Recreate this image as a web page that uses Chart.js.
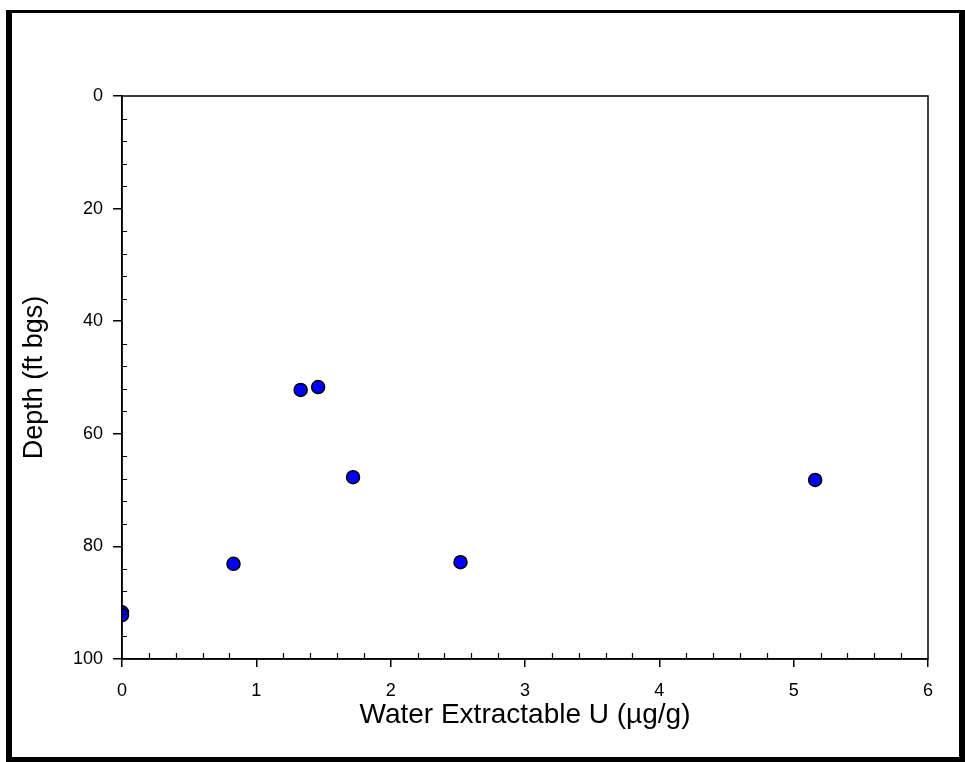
<!DOCTYPE html>
<html>
<head>
<meta charset="utf-8">
<script src="https://cdn.jsdelivr.net/npm/chart.js@4"></script>
<style>
  body { margin: 0; background: #fff; }
  canvas { display: block; }
</style>
</head>
<body>
<canvas id="grafico" width="965" height="762"></canvas>
<script>
// valores
const uValues = [0, 0, 0.83, 1.33, 1.46, 1.72, 2.52, 5.16];
const depthValues = [91.7, 92.2, 83.1, 52.2, 51.7, 67.7, 82.8, 68.2];
const xTicks = [0, 1, 2, 3, 4, 5, 6];
const yTicks = [0, 20, 40, 60, 80, 100];
const xMinorStep = 0.2;
const yMinorStep = 4;

const fonte = "'Liberation Sans', Arial, sans-serif";

// moldura preta e caixa da área do gráfico + ticks menores para dentro
const moldura = {
    id: 'moldura',
    afterDraw(chart) {
        const ctx = chart.ctx;
        const area = chart.chartArea;
        const x = chart.scales.x;
        const y = chart.scales.y;
        ctx.save();
        ctx.fillStyle = '#000';
        ctx.fillRect(6, 10, 953, 3);
        ctx.fillRect(6, 10, 6, 752);
        ctx.fillRect(959, 10, 6, 752);
        ctx.fillRect(6, 757, 959, 5);

        ctx.strokeStyle = '#000';
        ctx.lineWidth = 1.5;
        ctx.strokeRect(area.left, area.top, area.right - area.left, area.bottom - area.top);

        ctx.lineWidth = 1.2;
        ctx.beginPath();
        for (let v = xMinorStep; v < 6; v += xMinorStep) {
            if (Math.abs(v - Math.round(v)) < 1e-6) continue;
            const px = Math.round(x.getPixelForValue(v)) + 0.5;
            ctx.moveTo(px, area.bottom);
            ctx.lineTo(px, area.bottom - 6);
        }
        for (let v = yMinorStep; v < 100; v += yMinorStep) {
            if (v % 20 === 0) continue;
            const py = Math.round(y.getPixelForValue(v)) + 0.5;
            ctx.moveTo(area.left, py);
            ctx.lineTo(area.left + 5, py);
        }
        ctx.stroke();
        ctx.restore();
    }
};

window.addEventListener("DOMContentLoaded", () => {
    const ctx = document.getElementById('grafico').getContext('2d');
    new Chart(ctx, {
        type: 'scatter',
        data: {
            datasets: [{
                data: uValues.map((u, i) => ({ x: u, y: depthValues[i] })),
                backgroundColor: '#0000ff',
                borderColor: '#000',
                borderWidth: 1.5,
                pointRadius: 6.5,
                pointHoverRadius: 6.5
            }]
        },
        options: {
            responsive: false,
            animation: false,
            layout: { padding: { top: 96, right: 37, left: 0, bottom: 0 } },
            plugins: {
                legend: { display: false },
                tooltip: { enabled: false }
            },
            scales: {
                x: {
                    type: 'linear',
                    min: 0,
                    max: 6,
                    afterBuildTicks: s => { s.ticks = xTicks.map(v => ({ value: v })); },
                    afterFit: s => { s.height = 103; },
                    grid: { drawOnChartArea: false, tickLength: 8, color: '#000', lineWidth: 1.5 },
                    border: { color: '#000', width: 1.5 },
                    ticks: { color: '#000', padding: 13, font: { family: fonte, size: 18 } },
                    title: {
                        display: true,
                        text: 'Water Extractable U (µg/g)',
                        color: '#000',
                        font: { family: fonte, size: 28 },
                        padding: { top: 0, bottom: 30 }
                    }
                },
                y: {
                    type: 'linear',
                    reverse: true,
                    min: 0,
                    max: 100,
                    afterBuildTicks: s => { s.ticks = yTicks.map(v => ({ value: v })); },
                    afterFit: s => { s.width = 122; },
                    grid: { drawOnChartArea: false, tickLength: 9, color: '#000', lineWidth: 1.5 },
                    border: { color: '#000', width: 1.5 },
                    ticks: { color: '#000', padding: 10, font: { family: fonte, size: 18 } },
                    title: {
                        display: true,
                        text: 'Depth (ft bgs)',
                        color: '#000',
                        font: { family: fonte, size: 27 },
                        padding: { top: 18, bottom: 0 }
                    }
                }
            }
        },
        plugins: [moldura]
    });
});
</script>
</body>
</html>
